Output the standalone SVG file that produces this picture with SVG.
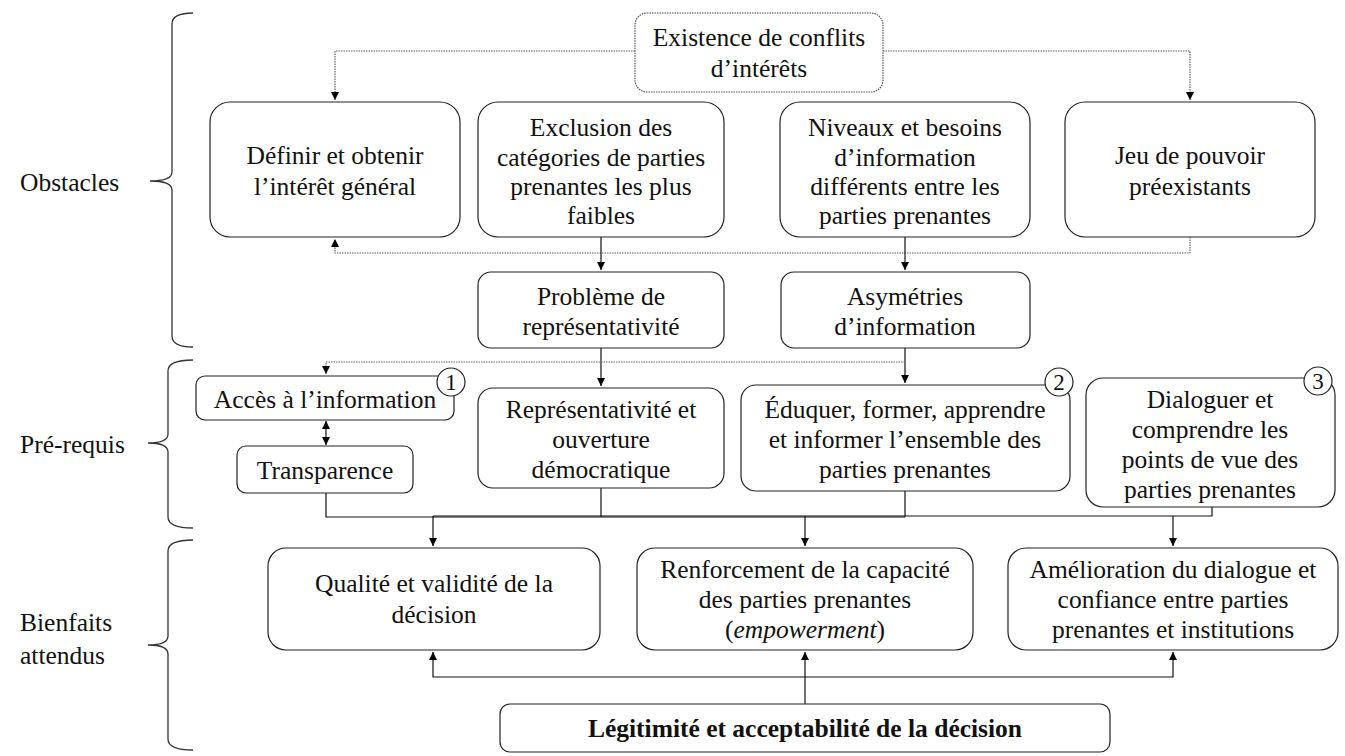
<svg xmlns="http://www.w3.org/2000/svg" width="1345" height="756" viewBox="0 0 1345 756">
<defs>
<marker id="ah" markerUnits="userSpaceOnUse" markerWidth="10" markerHeight="8" refX="8" refY="4" orient="auto-start-reverse">
<path d="M0,0 L8,4 L0,8 z" fill="#000"/>
</marker>
<style>
text{font-family:"Liberation Serif","Times New Roman",serif;font-size:25.5px;fill:#111;text-anchor:middle}
.lbl{text-anchor:start}
.num{font-size:23px}
.box{fill:#fff;stroke:#222;stroke-width:1.2}
.dbox{fill:#fff;stroke:#555;stroke-width:1.2;stroke-dasharray:1.5 1}
.ln{fill:none;stroke:#111;stroke-width:1.2}
.dl{fill:none;stroke:#666;stroke-width:1.2;stroke-dasharray:1.5 1}
.br{fill:none;stroke:#333;stroke-width:1.3}
.circ{fill:#fff;stroke:#222;stroke-width:1.2}
</style>
</defs>
<rect width="1345" height="756" fill="#fff"/>

<g id="braces">
<path class="br" d="M193,13 Q172,13 172,24 L172,172 Q172,181 150,181 Q172,181 172,190 L172,336 Q172,347 193,347"/>
<path class="br" d="M193,360 Q168,360 168,371 L168,434 Q168,443 148,443 Q168,443 168,452 L168,517 Q168,528 193,528"/>
<path class="br" d="M193,540 Q168,540 168,551 L168,636 Q168,645 148,645 Q168,645 168,654 L168,739 Q168,750 193,750"/>
<text class="lbl" x="20" y="191">Obstacles</text>
<text class="lbl" x="20" y="453">Pré-requis</text>
<text class="lbl" x="20" y="631">Bienfaits</text>
<text class="lbl" x="20" y="664">attendus</text>
</g>

<g id="connectors">
<path class="dl" d="M635,51 L335,51 L335,100" marker-end="url(#ah)"/>
<path class="dl" d="M883,51 L1190,51 L1190,100" marker-end="url(#ah)"/>
<path class="dl" d="M1190,237 L1190,253 L335,253 L335,239" marker-end="url(#ah)"/>
<path class="ln" d="M601,237 L601,270" marker-end="url(#ah)"/>
<path class="ln" d="M905,237 L905,270" marker-end="url(#ah)"/>
<path class="ln" d="M601,348 L601,386" marker-end="url(#ah)"/>
<path class="ln" d="M905,348 L905,383" marker-end="url(#ah)"/>
<path class="dl" d="M905,362 L326,362 L326,374" marker-end="url(#ah)"/>
<path class="ln" d="M326,421 L326,445" marker-start="url(#ah)" marker-end="url(#ah)"/>
<path class="ln" d="M326,493 L326,517 L905,517"/>
<path class="ln" d="M601,488 L601,517"/>
<path class="ln" d="M905,491 L905,517"/>
<path class="ln" d="M433,516 L1212,516 L1212,507"/>
<path class="ln" d="M433,516 L433,546" marker-end="url(#ah)"/>
<path class="ln" d="M805,516 L805,546" marker-end="url(#ah)"/>
<path class="ln" d="M1173,516 L1173,546" marker-end="url(#ah)"/>
<path class="ln" d="M805,704 L805,652" marker-end="url(#ah)"/>
<path class="ln" d="M433,652 L433,677 L1173,677 L1173,652" marker-start="url(#ah)" marker-end="url(#ah)"/>
</g>

<g id="n-existence">
<rect class="dbox" x="635" y="13" width="248" height="79" rx="12"/>
<text x="759" y="46">Existence de conflits</text>
<text x="759" y="77">d’intérêts</text>
</g>
<g id="n-definir">
<rect class="box" x="210" y="102" width="250" height="135" rx="20"/>
<text x="335" y="164">Définir et obtenir</text>
<text x="335" y="195">l’intérêt général</text>
</g>
<g id="n-exclusion">
<rect class="box" x="478" y="102" width="246" height="135" rx="20"/>
<text x="601" y="136">Exclusion des</text>
<text x="601" y="166">catégories de parties</text>
<text x="601" y="195">prenantes les plus</text>
<text x="601" y="224">faibles</text>
</g>
<g id="n-niveaux">
<rect class="box" x="780" y="102" width="250" height="135" rx="20"/>
<text x="905" y="136">Niveaux et besoins</text>
<text x="905" y="166">d’information</text>
<text x="905" y="195">différents entre les</text>
<text x="905" y="224">parties prenantes</text>
</g>
<g id="n-jeu">
<rect class="box" x="1065" y="102" width="250" height="135" rx="20"/>
<text x="1190" y="164">Jeu de pouvoir</text>
<text x="1190" y="195">préexistants</text>
</g>
<g id="n-probleme">
<rect class="box" x="478" y="272" width="246" height="76" rx="13"/>
<text x="601" y="305">Problème de</text>
<text x="601" y="335">représentativité</text>
</g>
<g id="n-asymetries">
<rect class="box" x="781" y="272" width="249" height="76" rx="13"/>
<text x="905" y="305">Asymétries</text>
<text x="905" y="335">d’information</text>
</g>
<g id="n-acces">
<rect class="box" x="196" y="376" width="258" height="44" rx="9"/>
<text x="325" y="408">Accès à l’information</text>
<circle class="circ" cx="451" cy="382" r="14"/>
<text class="num" x="451" y="390">1</text>
</g>
<g id="n-transparence">
<rect class="box" x="237" y="446" width="176" height="47" rx="9"/>
<text x="325" y="479">Transparence</text>
</g>
<g id="n-representativite">
<rect class="box" x="478" y="388" width="246" height="100" rx="15"/>
<text x="601" y="418">Représentativité et</text>
<text x="601" y="448">ouverture</text>
<text x="601" y="478">démocratique</text>
</g>
<g id="n-eduquer">
<rect class="box" x="741" y="385" width="329" height="106" rx="15"/>
<text x="905" y="418">Éduquer, former, apprendre</text>
<text x="905" y="448">et informer l’ensemble des</text>
<text x="905" y="478">parties prenantes</text>
<circle class="circ" cx="1059" cy="382" r="14"/>
<text class="num" x="1059" y="390">2</text>
</g>
<g id="n-dialoguer">
<rect class="box" x="1086" y="378" width="249" height="129" rx="17"/>
<text x="1210" y="408">Dialoguer et</text>
<text x="1210" y="438">comprendre les</text>
<text x="1210" y="468">points de vue des</text>
<text x="1210" y="498">parties prenantes</text>
<circle class="circ" cx="1318" cy="381" r="14"/>
<text class="num" x="1318" y="389">3</text>
</g>
<g id="n-qualite">
<rect class="box" x="268" y="548" width="332" height="102" rx="18"/>
<text x="434" y="592">Qualité et validité de la</text>
<text x="434" y="623">décision</text>
</g>
<g id="n-renforcement">
<rect class="box" x="637" y="548" width="336" height="102" rx="18"/>
<text x="805" y="578">Renforcement de la capacité</text>
<text x="805" y="608">des parties prenantes</text>
<text x="805" y="638">(<tspan font-style="italic">empowerment</tspan>)</text>
</g>
<g id="n-amelioration">
<rect class="box" x="1008" y="548" width="330" height="102" rx="18"/>
<text x="1173" y="578">Amélioration du dialogue et</text>
<text x="1173" y="608">confiance entre parties</text>
<text x="1173" y="638">prenantes et institutions</text>
</g>
<g id="n-legitimite">
<rect class="box" x="500" y="704" width="610" height="48" rx="10"/>
<text x="805" y="737" font-weight="bold" font-size="23.5">Légitimité et acceptabilité de la décision</text>
</g>
</svg>
